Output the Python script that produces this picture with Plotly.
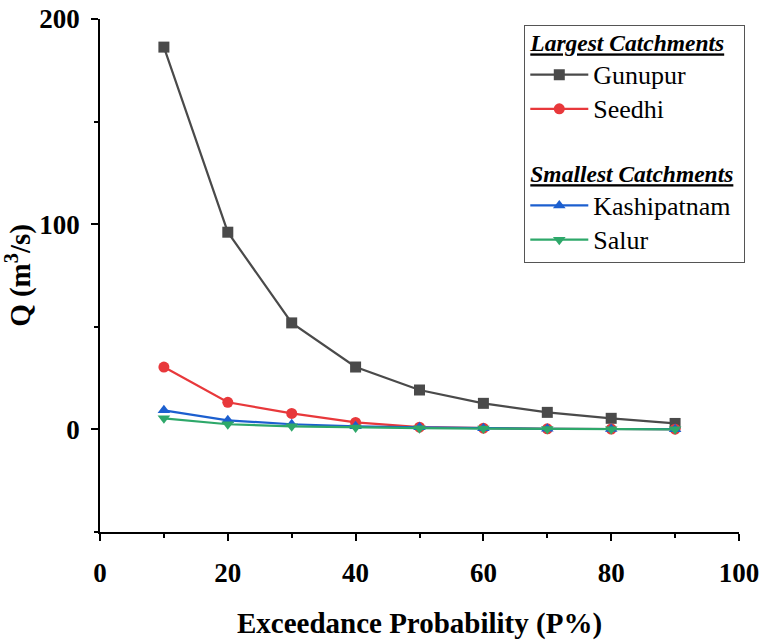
import plotly.graph_objects as go

p = [10, 20, 30, 40, 50, 60, 70, 80, 90]
gunupur = [186.3, 96.1, 51.9, 30.4, 19.2, 12.7, 8.3, 5.4, 2.9]
seedhi = [30.4, 13.2, 7.8, 3.4, 1.1, 0.6, 0.3, 0.2, 0.1]
kashipatnam = [9.3, 4.4, 2.5, 1.5, 1.0, 0.6, 0.3, 0.2, 0.1]
salur = [5.4, 2.5, 1.5, 0.9, 0.6, 0.4, 0.2, 0.1, 0.05]

x_ticks = [0, 20, 40, 60, 80, 100]
y_ticks = [0, 100, 200]

FONT = "Liberation Serif, Times New Roman, serif"

series = [
    ("Gunupur", gunupur, "#4a4a4a", "square", "large"),
    ("Seedhi", seedhi, "#e8383b", "circle", "large"),
    ("Kashipatnam", kashipatnam, "#1c5fcf", "triangle-up", "small"),
    ("Salur", salur, "#2ea86a", "triangle-down", "small"),
]
group_titles = {
    "large": "Largest Catchments",
    "small": "Smallest Catchments",
}

fig = go.Figure()
for name, vals, color, sym, grp in series:
    fig.add_trace(go.Scatter(
        x=p, y=vals, name=f"<span style='font-size:26px'>{name}</span>",
        mode="lines+markers",
        line=dict(color=color, width=2.2),
        marker=dict(symbol=sym, size=11, color=color),
        legendgroup=grp,
        legendgrouptitle=dict(
            text=f"<span style='font-size:23.5px'><u><b><i>{group_titles[grp]}</i></b></u></span>",
            font=dict(family=FONT, size=18, color="black")),
    ))

axis_common = dict(
    showgrid=False, zeroline=False, showline=True, linecolor="black", linewidth=1.5,
    ticks="outside", ticklen=7, tickwidth=1.5, tickcolor="black",
    tickfont=dict(family=FONT, size=27, color="black"),
    mirror=False, automargin=False,
)

fig.update_xaxes(
    range=[0, 100], tickvals=x_ticks, ticktext=[f"<b>{v}</b>" for v in x_ticks],
    minor=dict(ticks="outside", ticklen=4, tickwidth=1.5, tickcolor="black", dtick=10),
    ticklabelstandoff=9,
    title=dict(text="<b>Exceedance Probability (P%)</b>",
               font=dict(family=FONT, size=29, color="black"), standoff=41),
    **axis_common,
)
fig.update_yaxes(
    range=[-50, 200], tickvals=y_ticks, ticktext=[f"<b>{v}</b>" for v in y_ticks],
    minor=dict(ticks="outside", ticklen=4, tickwidth=1.5, tickcolor="black",
               tickvals=[-50, 50, 150]),
    ticklabelstandoff=6,
    title=dict(text="<b>Q (m<sup>3</sup>/s)</b>",
               font=dict(family=FONT, size=29, color="black"), standoff=5),
    **axis_common,
)

fig.update_layout(
    width=761, height=640,
    margin=dict(l=100, r=22, t=19, b=108),
    font=dict(family=FONT, color="black"),
    paper_bgcolor="white", plot_bgcolor="white",
    legend=dict(
        x=0.664, y=0.988, xanchor="left", yanchor="top",
        bgcolor="white", bordercolor="#555555", borderwidth=1,
        font=dict(family=FONT, size=24, color="black"),
        tracegroupgap=36, itemwidth=58,
    ),
)

fig.write_html("out.html")
